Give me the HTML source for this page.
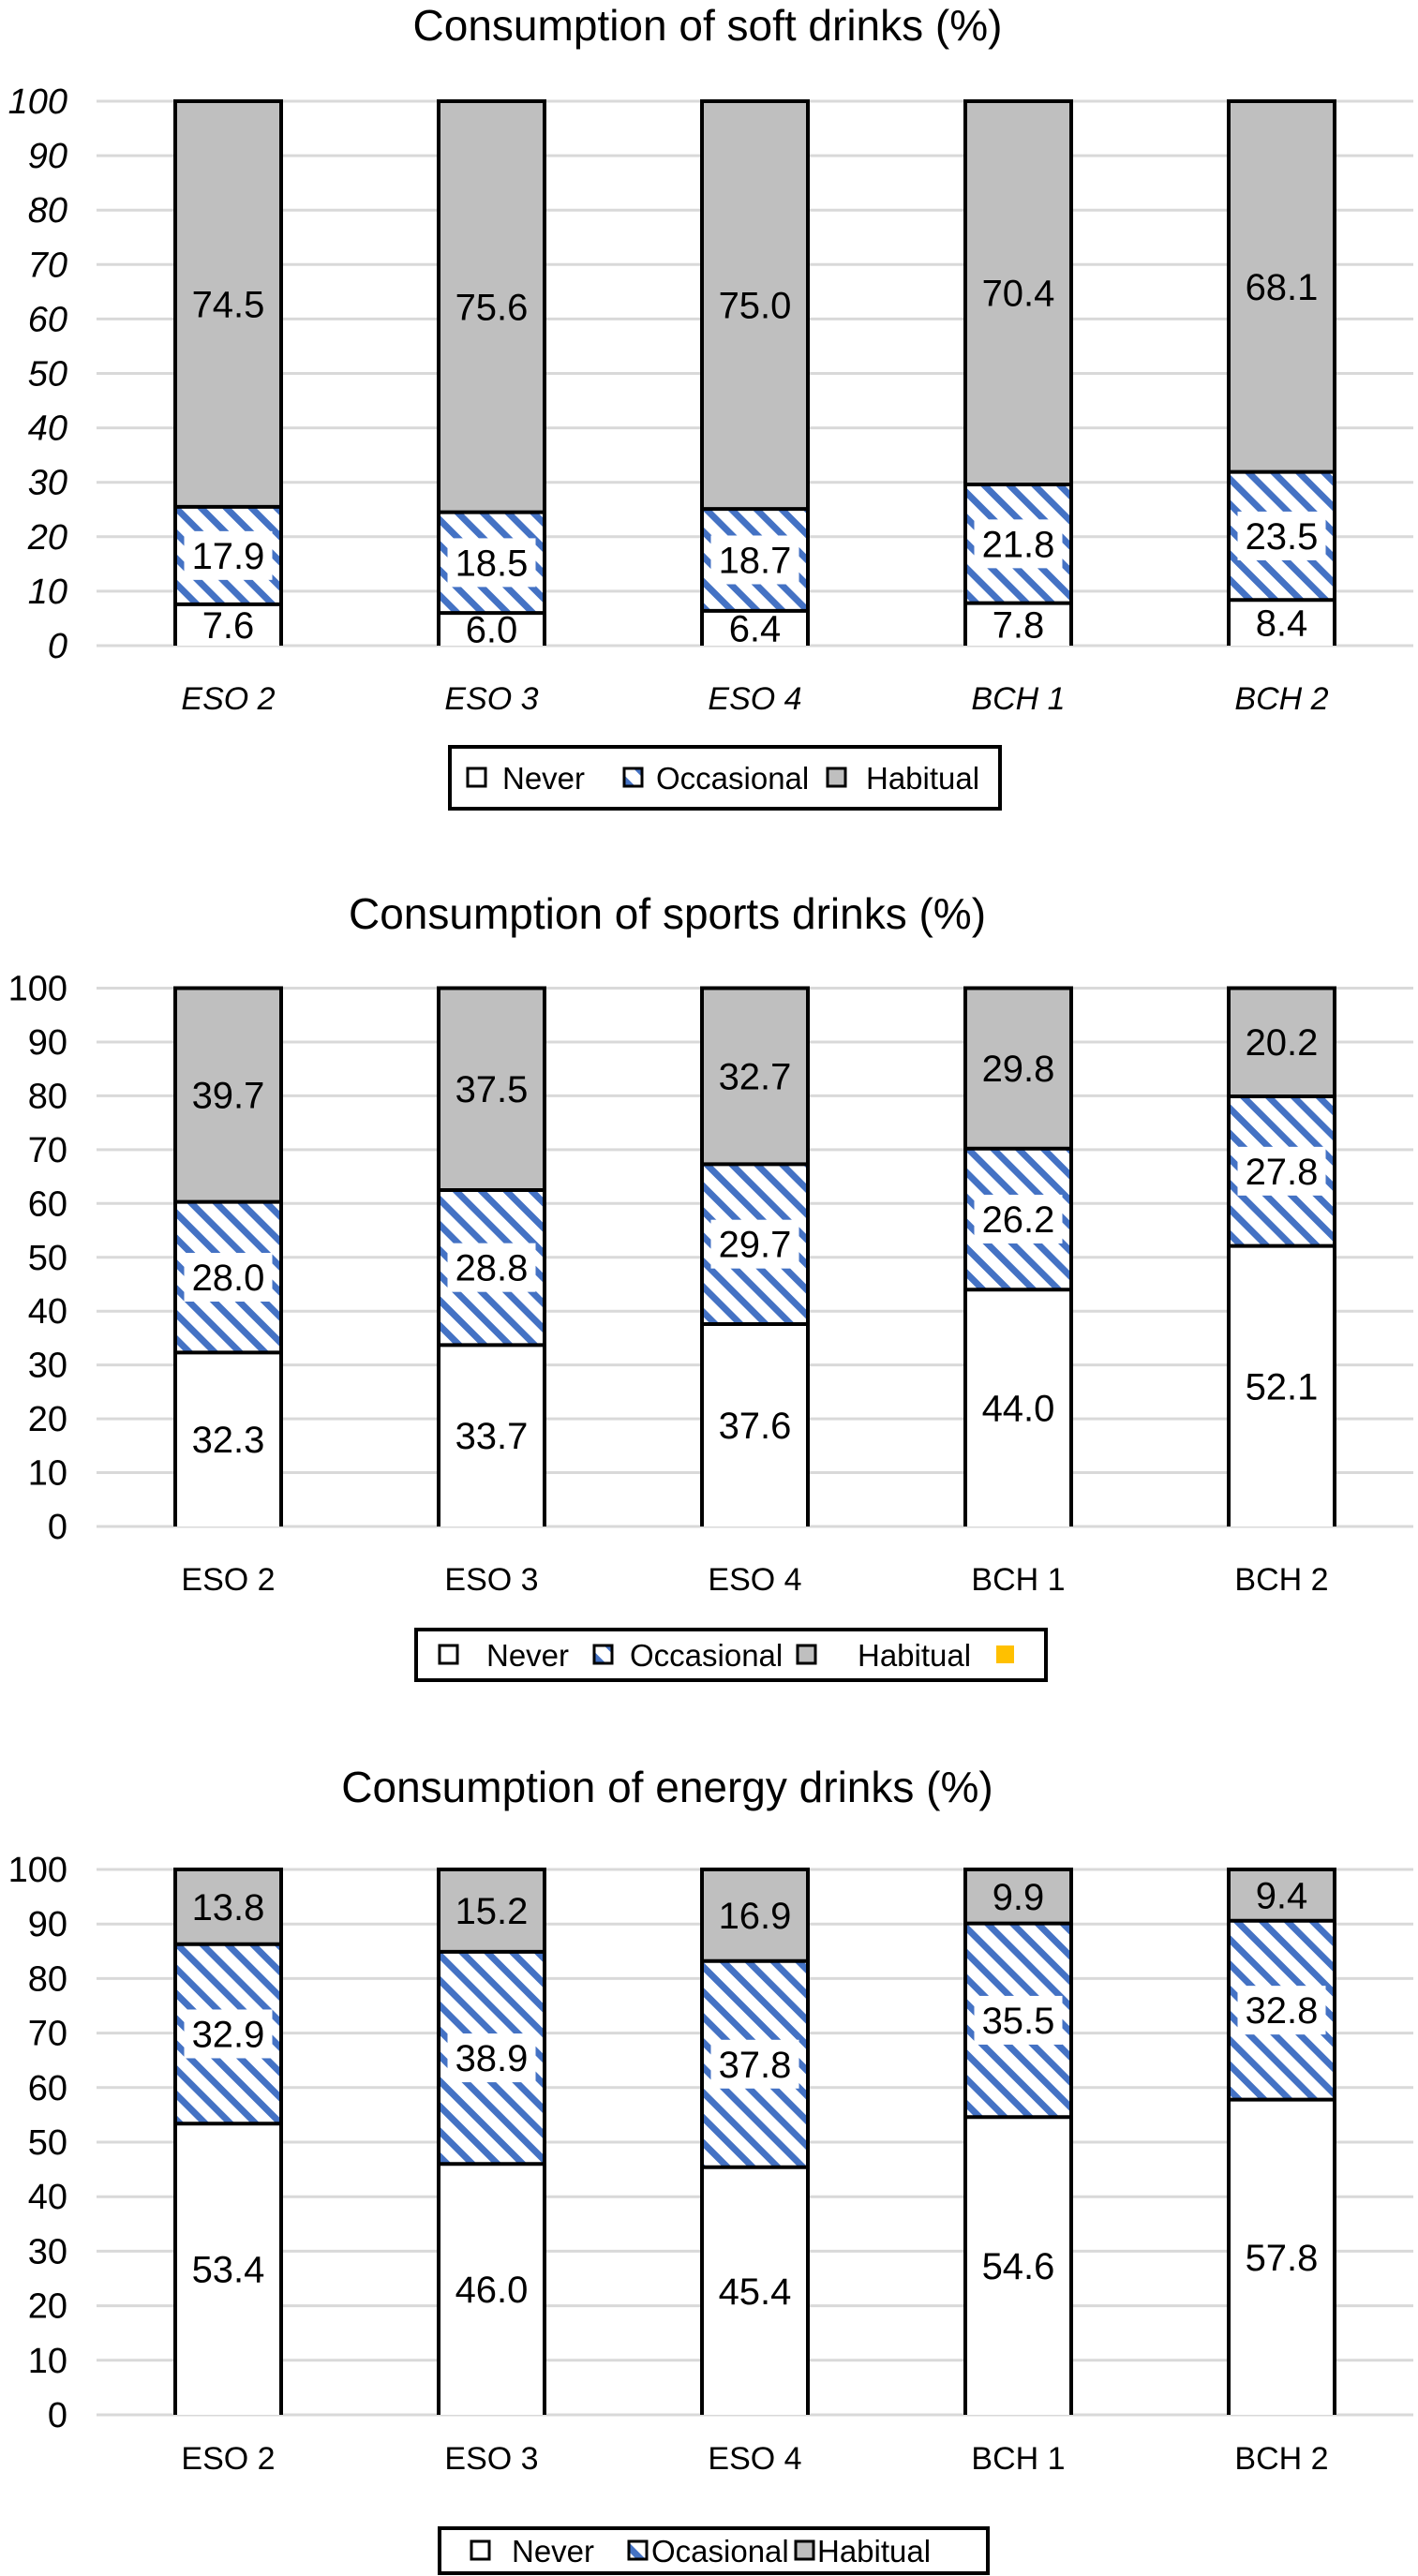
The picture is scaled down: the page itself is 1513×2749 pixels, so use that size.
<!DOCTYPE html>
<html><head><meta charset="utf-8"><style>
html,body{margin:0;padding:0;background:#fff;}
svg{display:block;font-family:"Liberation Sans",Arial,sans-serif;}
</style></head><body>
<svg id="s" width="1513" height="2749" viewBox="0 0 1513 2749" xmlns="http://www.w3.org/2000/svg">
<defs>
<pattern id="hatch" patternUnits="userSpaceOnUse" width="19" height="19" patternTransform="rotate(45)">
<rect width="19" height="19" fill="#fff"/>
<rect x="0" y="0" width="19" height="7" fill="#4472C4"/>
</pattern>
</defs>
</svg>
<script>
const categories = ["ESO 2","ESO 3","ESO 4","BCH 1","BCH 2"];
const softNever = [7.6,6.0,6.4,7.8,8.4];
const softOcc = [17.9,18.5,18.7,21.8,23.5];
const softHab = [74.5,75.6,75.0,70.4,68.1];
const sportNever = [32.3,33.7,37.6,44.0,52.1];
const sportOcc = [28.0,28.8,29.7,26.2,27.8];
const sportHab = [39.7,37.5,32.7,29.8,20.2];
const energyNever = [53.4,46.0,45.4,54.6,57.8];
const energyOcc = [32.9,38.9,37.8,35.5,32.8];
const energyHab = [13.8,15.2,16.9,9.9,9.4];
const yTicks = [0,10,20,30,40,50,60,70,80,90,100];

const NS = "http://www.w3.org/2000/svg";
const svg = document.getElementById('s');
function mk(tag, attrs, parent){
  const e = document.createElementNS(NS, tag);
  for (const k in attrs) e.setAttribute(k, attrs[k]);
  (parent||svg).appendChild(e);
  return e;
}

const charts = [
 {key:"soft", title:"Consumption of soft drinks (%)", titleX:755, titleY:43, y100:108, y0:689, italic:true, catY:757,
  never:softNever, occ:softOcc, hab:softHab,
  legend:{x:480,y:797,w:587,h:66, items:[[499,536,"Never"],[666,700,"Occasional"],[883,924,"Habitual"]], yellow:null}},
 {key:"sports", title:"Consumption of sports drinks (%)", titleX:712, titleY:991, y100:1054.5, y0:1629, italic:false, catY:1697,
  never:sportNever, occ:sportOcc, hab:sportHab,
  legend:{x:444,y:1739,w:672,h:54, items:[[469,519,"Never"],[634,672,"Occasional"],[851,915,"Habitual"]], yellow:1063}},
 {key:"energy", title:"Consumption of energy drinks (%)", titleX:712, titleY:1923, y100:1995, y0:2577, italic:false, catY:2635,
  never:energyNever, occ:energyOcc, hab:energyHab,
  legend:{x:469,y:2698,w:585,h:48, items:[[503,546,"Never"],[671,695,"Ocasional"],[849,872,"Habitual"]], yellow:null}}
];

const barLeft0 = 187, barStep = 281, barW = 113;
function xBand(i){ return barLeft0 + i*barStep; }

charts.forEach((c, ci) => {
  const g = mk('g', {});
  
  
  const yS = v => c.y0 - (c.y0 - c.y100) * v / 100;

  const t = mk('text', {x:c.titleX, y:c.titleY, 'text-anchor':'middle', 'font-size':46, fill:'#000'}, g);
  t.textContent = c.title;
  
  

  yTicks.forEach(tv => {
    const gl = mk('line', {x1:103, x2:1508, y1:yS(tv), y2:yS(tv), stroke:'#d9d9d9', 'stroke-width':3}, g);
    
    
    const tl = mk('text', {x:72, y:yS(tv)+13, 'text-anchor':'end', 'font-size':38, fill:'#000', 'font-style': c.italic?'italic':'normal'}, g);
    tl.textContent = tv;
    
    
  });

  categories.forEach((cat, i) => {
    const x = xBand(i);
    const cx = x + barW/2;
    const clipId = 'clip' + ci + '_' + i;
    const cp = mk('clipPath', {id:clipId}, g);
    mk('rect', {x:x, y:c.y100, width:barW, height:c.y0-c.y100}, cp);
    const bg = mk('g', {'clip-path':'url(#'+clipId+')'}, g);
    
    
    const n = c.never[i], o = c.occ[i], h = c.hab[i];
    const segs = [[0, n, '#fff', 'never'], [n, n+o, 'url(#hatch)', 'occasional'], [n+o, 100, '#bfbfbf', 'habitual']];
    const vals = [n, o, h];
    segs.forEach((s, si) => {
      const r = mk('rect', {x:x, y:yS(s[1]), width:barW, height:yS(s[0])-yS(s[1]), fill:s[2]}, bg);
      
      
    });
    segs.forEach((s, si) => {
      const cy = (yS(s[0]) + yS(s[1]))/2;
      const label = vals[si].toFixed(1);
      if (si === 1) {
        const wb = label.length * 21 + 10;
        const wr = mk('rect', {x:cx - wb/2, y:cy-26, width:wb, height:52, fill:'#fff'}, bg);
        
        
      }
      const vt = mk('text', {x:cx, y:cy+14, 'text-anchor':'middle', 'font-size':40, fill:'#000'}, bg);
      vt.textContent = label;
      
      
    });
    [n, n+o].forEach(b => {
      mk('line', {x1:x, x2:x+barW, y1:yS(b), y2:yS(b), stroke:'#000', 'stroke-width':4}, bg);
    });
    const ol = mk('path', {d:`M${x},${c.y0} L${x},${c.y100} L${x+barW},${c.y100} L${x+barW},${c.y0}`, fill:'none', stroke:'#000', 'stroke-width':4}, g);
    
    
    const ct = mk('text', {x:cx, y:c.catY, 'text-anchor':'middle', 'font-size':34, fill:'#000', 'font-style': c.italic?'italic':'normal'}, g);
    ct.textContent = cat;
    
    
  });

  const L = c.legend;
  const lg = mk('g', {}, g);
  
  
  mk('rect', {x:L.x, y:L.y, width:L.w, height:L.h, fill:'#fff', stroke:'#000', 'stroke-width':4}, lg);
  const fills = ['#fff', 'url(#hatch)', '#bfbfbf'];
  const midY = L.y + L.h/2;
  L.items.forEach((it, k) => {
    const sq = mk('rect', {x:it[0], y:midY-10, width:19, height:19, fill:fills[k], stroke:'#000', 'stroke-width':3}, lg);
    
    
    const lt = mk('text', {x:it[1], y:midY+12, 'font-size':33, fill:'#000'}, lg);
    lt.textContent = it[2];
    
    
  });
  if (L.yellow) {
    const ys = mk('rect', {x:L.yellow, y:midY-10, width:19, height:19, fill:'#FFC000'}, lg);
    
    
  }
});
</script>
</body></html>
